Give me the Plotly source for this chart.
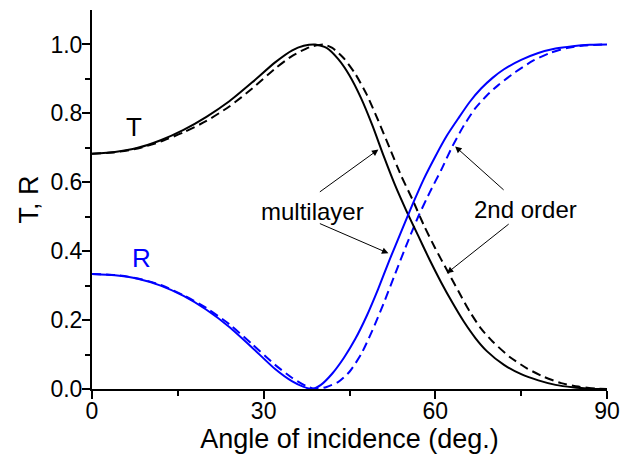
import plotly.graph_objects as go

# Multilayer (solid) transmission T
theta_T_ml = [0, 4, 8, 12, 16, 20, 24, 28, 32, 35, 37, 39, 41, 43, 45, 47, 49, 51, 53, 55,
              57, 59, 61, 63, 65, 67, 69, 72, 75, 78, 81, 84, 87, 90]
T_ml = [0.683, 0.688, 0.700, 0.722, 0.752, 0.790, 0.835, 0.890, 0.948, 0.983, 0.996, 1.0,
        0.990, 0.958, 0.910, 0.845, 0.765, 0.675, 0.590, 0.515, 0.445, 0.375, 0.310, 0.250,
        0.195, 0.148, 0.110, 0.070, 0.043, 0.025, 0.012, 0.005, 0.001, 0.0]

# Multilayer (solid) reflection R
theta_R_ml = [0, 4, 8, 12, 16, 20, 24, 28, 32, 35, 37, 38.5, 40, 42, 44, 46, 48, 50, 52, 54,
              56, 58, 60, 62, 64, 66, 68, 70, 72, 75, 78, 81, 84, 87, 90]
R_ml = [0.334, 0.330, 0.320, 0.300, 0.270, 0.230, 0.180, 0.120, 0.058, 0.022, 0.006, 0.0,
        0.012, 0.045, 0.090, 0.145, 0.212, 0.290, 0.375, 0.455, 0.535, 0.610, 0.675, 0.735,
        0.785, 0.833, 0.872, 0.903, 0.928, 0.955, 0.975, 0.988, 0.995, 0.999, 1.0]

# 2nd order (dashed) transmission T
theta_T_2 = [0, 4, 8, 12, 16, 20, 24, 28, 32, 35, 38, 40.4, 42, 44, 46, 48, 50, 52, 54, 56,
             58, 60, 62, 64, 66, 68, 70, 73, 76, 79, 82, 85, 88, 90]
T_2 = [0.683, 0.687, 0.698, 0.718, 0.745, 0.778, 0.820, 0.872, 0.930, 0.967, 0.992, 1.0,
       0.990, 0.960, 0.915, 0.855, 0.780, 0.700, 0.620, 0.550, 0.475, 0.408, 0.346, 0.285,
       0.225, 0.175, 0.138, 0.093, 0.060, 0.035, 0.017, 0.007, 0.001, 0.0]

# 2nd order (dashed) reflection R
theta_R_2 = [0, 4, 8, 12, 16, 20, 24, 28, 32, 35, 37.5, 39.3, 41, 43, 45, 47, 49, 51, 53, 55,
             57, 59, 61, 63, 65, 67, 69, 71, 74, 77, 80, 83, 86, 90]
R_2 = [0.334, 0.331, 0.321, 0.302, 0.272, 0.235, 0.188, 0.130, 0.070, 0.032, 0.008, 0.0,
       0.006, 0.020, 0.050, 0.100, 0.170, 0.250, 0.335, 0.420, 0.500, 0.570, 0.635, 0.705,
       0.765, 0.815, 0.852, 0.882, 0.920, 0.952, 0.975, 0.990, 0.997, 1.0]

x_ticks = [0, 30, 60, 90]
y_ticks = [0.0, 0.2, 0.4, 0.6, 0.8, 1.0]
y_tick_labels = ["0.0", "0.2", "0.4", "0.6", "0.8", "1.0"]

FONT = "Liberation Sans, Arial, sans-serif"
BLUE = "#0000FF"
BLACK = "#000000"
DASH = "9px,5px"
LW = 2

fig = go.Figure()
fig.add_trace(go.Scatter(x=theta_T_2, y=T_2, mode="lines",
                         line=dict(color=BLACK, width=LW, dash=DASH, shape="spline", smoothing=0.6)))
fig.add_trace(go.Scatter(x=theta_R_2, y=R_2, mode="lines",
                         line=dict(color=BLUE, width=LW, dash=DASH, shape="spline", smoothing=0.6)))
fig.add_trace(go.Scatter(x=theta_T_ml, y=T_ml, mode="lines",
                         line=dict(color=BLACK, width=LW, shape="spline", smoothing=0.6)))
fig.add_trace(go.Scatter(x=theta_R_ml, y=R_ml, mode="lines",
                         line=dict(color=BLUE, width=LW, shape="spline", smoothing=0.6)))

annotations = [
    dict(x=7.4, y=0.76, text="T", showarrow=False, font=dict(size=26, color=BLACK, family=FONT)),
    dict(x=8.6, y=0.38, text="R", showarrow=False, font=dict(size=26, color=BLUE, family=FONT)),
    dict(x=38.5, y=0.515, text="multilayer", showarrow=False, font=dict(size=24, color=BLACK, family=FONT)),
    dict(x=75.7, y=0.52, text="2nd order", showarrow=False, font=dict(size=24, color=BLACK, family=FONT)),
]
arrows = [
    ((39.56, 0.569), (50.05, 0.695)),
    ((39.56, 0.482), (51.8, 0.394)),
    ((72.2, 0.574), (63.46, 0.704)),
    ((73.08, 0.482), (62.0, 0.336)),
]
for (tx, ty), (hx, hy) in arrows:
    annotations.append(dict(x=hx, y=hy, ax=tx, ay=ty, xref="x", yref="y", axref="x", ayref="y",
                            text="", showarrow=True, arrowhead=2, arrowsize=1.3, arrowwidth=1,
                            arrowcolor=BLACK, standoff=0, startstandoff=0))

fig.update_layout(
    width=621, height=455,
    margin=dict(l=92, r=14, t=10, b=66, autoexpand=False),
    paper_bgcolor="white", plot_bgcolor="white",
    showlegend=False,
    hovermode=False,
    font=dict(family=FONT, color=BLACK),
    annotations=annotations,
    xaxis=dict(range=[0, 90], tickvals=x_ticks, ticktext=[str(v) for v in x_ticks],
               automargin=False,
               showline=True, linecolor=BLACK, linewidth=2, ticks="outside", ticklen=8, tickwidth=2,
               tickcolor=BLACK, showgrid=False, zeroline=False,
               tickfont=dict(size=23, family=FONT), ticklabelstandoff=-8,
               minor=dict(tickvals=[15, 45, 75], ticks="outside", ticklen=5, tickwidth=2, tickcolor=BLACK),
               title=dict(text="Angle of incidence (deg.)", font=dict(size=27, family=FONT), standoff=4)),
    yaxis=dict(range=[0, 1.1], tickvals=y_ticks, ticktext=y_tick_labels,
               automargin=False,
               showline=True, linecolor=BLACK, linewidth=2, ticks="outside", ticklen=8, tickwidth=2,
               tickcolor=BLACK, showgrid=False, zeroline=False,
               tickfont=dict(size=23, family=FONT), ticklabelstandoff=-5,
               minor=dict(tickvals=[0.1, 0.3, 0.5, 0.7, 0.9], ticks="outside", ticklen=5, tickwidth=2,
                          tickcolor=BLACK),
               title=dict(text="T, R", font=dict(size=27, family=FONT), standoff=4)),
)

# remove the page's default 8px body margin so the 621x455 figure fills the window exactly
fig.write_html("out.html", config={"displayModeBar": False},
               post_script="document.body.style.margin='0px';")
